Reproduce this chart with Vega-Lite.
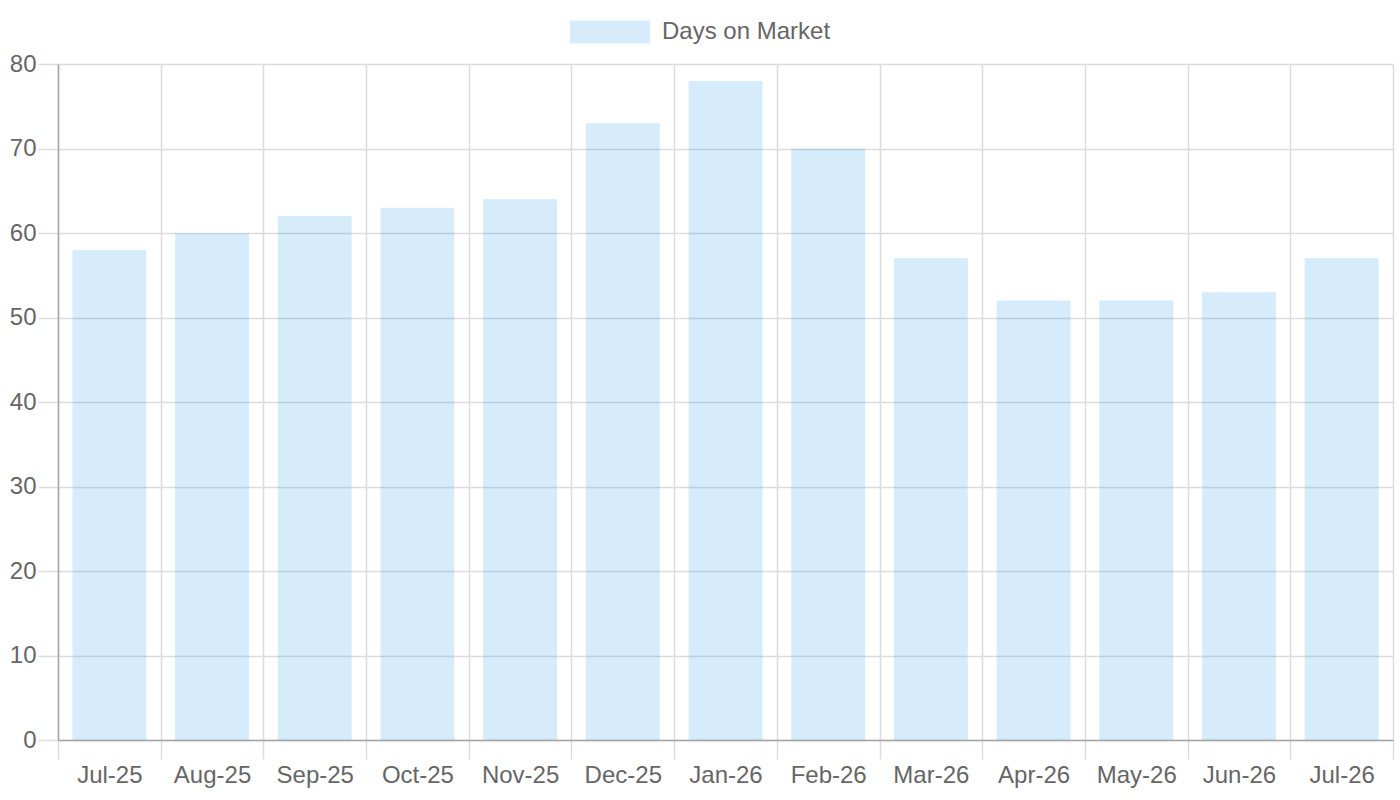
{
  "$schema": "https://vega.github.io/schema/vega-lite/v6.json",
  "autosize": {"type": "none"},
  "width": 1335,
  "height": 676,
  "padding": {"left": 58, "top": 64, "right": 7, "bottom": 60},
  "background": "white",
  "config": {"view": {"stroke": null}, "font": "Liberation Sans"},
  "data": {
    "values": [
      {"month": "Jul-25", "days": 58},
      {"month": "Aug-25", "days": 60},
      {"month": "Sep-25", "days": 62},
      {"month": "Oct-25", "days": 63},
      {"month": "Nov-25", "days": 64},
      {"month": "Dec-25", "days": 73},
      {"month": "Jan-26", "days": 78},
      {"month": "Feb-26", "days": 70},
      {"month": "Mar-26", "days": 57},
      {"month": "Apr-26", "days": 52},
      {"month": "May-26", "days": 52},
      {"month": "Jun-26", "days": 53},
      {"month": "Jul-26", "days": 57}
    ]
  },
  "mark": {"type": "bar", "width": {"band": 0.72}},
  "encoding": {
    "x": {
      "field": "month",
      "type": "nominal",
      "sort": null,
      "scale": {"paddingInner": 0, "paddingOuter": 0},
      "axis": {
        "title": null,
        "labelAngle": 0,
        "tickBand": "extent",
        "grid": true,
        "gridColor": "#dcdcdc",
        "gridWidth": 1.5,
        "tickColor": "#dcdcdc",
        "tickWidth": 1.5,
        "tickSize": 19,
        "domainColor": "#a6a6a6",
        "domainWidth": 1.5,
        "labelFontSize": 24,
        "labelColor": "#666666",
        "labelPadding": 4
      }
    },
    "y": {
      "field": "days",
      "type": "quantitative",
      "scale": {"domain": [0, 80]},
      "axis": {
        "title": null,
        "values": [0, 10, 20, 30, 40, 50, 60, 70, 80],
        "grid": true,
        "gridColor": "#dcdcdc",
        "gridWidth": 1.5,
        "tickColor": "#dcdcdc",
        "tickWidth": 1.5,
        "tickSize": 20,
        "domainColor": "#a6a6a6",
        "domainWidth": 1.5,
        "labelFontSize": 24,
        "labelColor": "#666666",
        "labelPadding": 2
      }
    },
    "color": {
      "datum": "Days on Market",
      "type": "nominal",
      "scale": {"range": ["rgba(54,162,235,0.2)"]},
      "legend": {
        "orient": "none",
        "legendX": 512,
        "legendY": -72,
        "title": null,
        "padding": 0,
        "symbolType": "M-1,-0.2875L1,-0.2875L1,0.2875L-1,0.2875Z",
        "symbolSize": 6400,
        "symbolStrokeWidth": 0,
        "labelFontSize": 24,
        "labelColor": "#666666",
        "labelOffset": 12,
        "labelLimit": 400
      }
    }
  }
}
